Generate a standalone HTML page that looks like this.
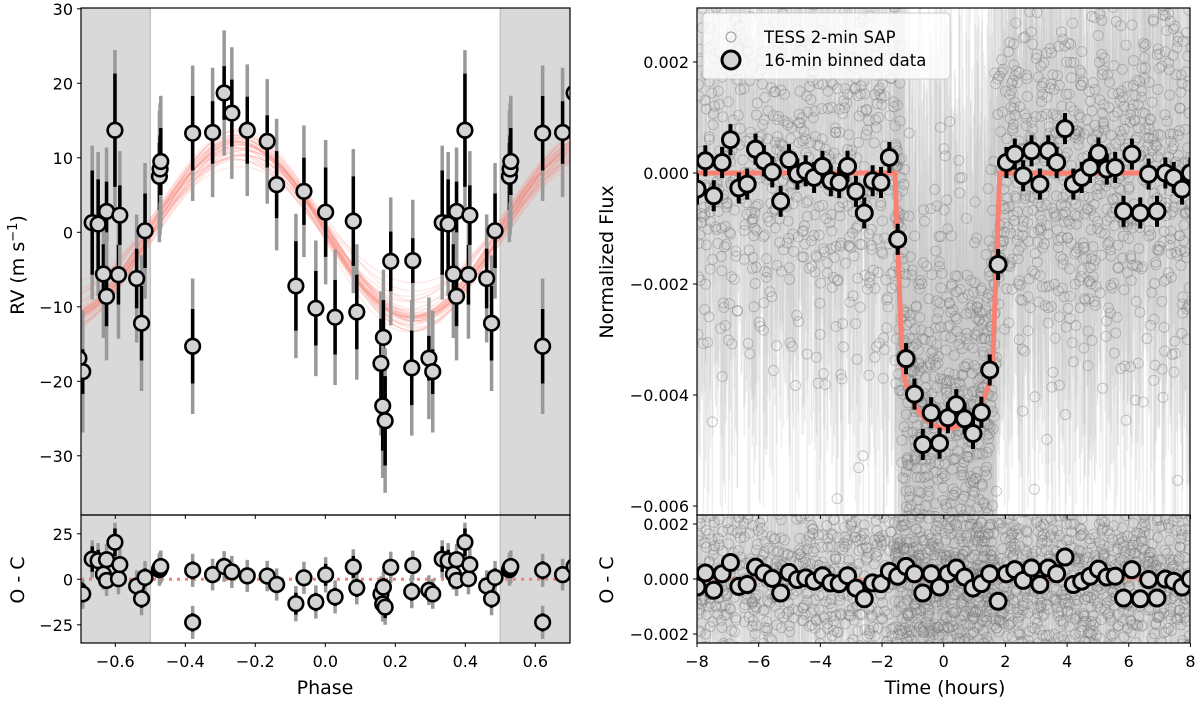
<!DOCTYPE html>
<html><head><meta charset="utf-8"><style>
html,body{margin:0;padding:0;background:#fff;overflow:hidden;width:1200px;height:704px;}
svg{display:block;}
svg text{font-family:"DejaVu Sans","Liberation Sans",sans-serif;}
</style></head><body>
<svg id="fig" width="1200" height="704" viewBox="0 0 1200 704" xmlns="http://www.w3.org/2000/svg">
<defs>
<clipPath id="clipL"><rect x="81" y="8" width="489" height="507"/></clipPath>
<clipPath id="clipLR"><rect x="81" y="515" width="489" height="128"/></clipPath>
<clipPath id="clipR"><rect x="697" y="8" width="493" height="507"/></clipPath>
<clipPath id="clipRR"><rect x="697" y="515" width="493" height="128"/></clipPath>
</defs>
<g id="gL"></g>
<g id="gLR"></g>
<g id="gR"></g>
<g id="gRR"></g>
<g id="gAx"></g>
</svg>
<script>
// ---- RV data (phase, rv, inner error) ----
const rvPhase = [-0.474,-0.472,-0.470,-0.379,-0.379,-0.322,-0.289,-0.267,-0.223,-0.166,-0.139,-0.084,-0.061,-0.027,0.001,0.028,0.080,0.090,0.159,0.166,0.164,0.171,0.187,0.250,0.247,0.296,0.307,0.334,0.351,0.375,0.366,0.375,0.399,0.409,0.413,0.461,0.475,0.485];
const rvValue = [7.5,8.5,9.5,13.3,-15.3,13.4,18.7,16.0,13.7,12.2,6.4,-7.2,5.5,-10.2,2.7,-11.4,1.5,-10.7,-17.6,-14.1,-23.3,-25.3,-3.9,-3.8,-18.2,-16.9,-18.7,1.3,1.1,2.8,-5.6,-8.6,13.7,-5.7,2.3,-6.2,-12.2,0.2];
const rvErr   = [4.5,4.5,4.5,5.0,5.0,4.2,3.6,4.5,4.5,3.5,4.5,6,4.5,5,6,5,6,5,6,5,6,6,4,3,5,3,3,7,6,4,4,4,7.6,4,4,4,5,5];
const rvJitter = 7.6;
// model posterior samples
const sampK   = [11.7,12.0,11.3,10.8,12.5,11.9,13.2,10.2,11.5,12.2,9.5,11.0,12.8,11.6,10.6,13.6,11.8,12.1,8.8,11.4,12.4,10.9,11.7,13.0,9.9,11.2,12.6,11.9,10.4,11.6,7.8,12.3,11.1,13.4,10.7,11.8,12.0,9.2,11.5,12.9];
const sampDp  = [0,0.01,-0.01,0.015,-0.005,0.005,-0.012,0.02,0,0.008,-0.015,0.012,-0.008,0.003,-0.018,0.006,0.01,-0.004,0.004,-0.01,0.014,0.002,-0.006,0.009,-0.02,0.016,-0.003,0.007,0.011,-0.014,0.005,-0.009,0.013,0,0.018,-0.007,0.004,-0.011,0.008,0.001];
const sampGam = [0.3,0.5,0,-0.4,0.6,0.2,-0.2,0.8,0.3,-0.5,0.4,0.1,0.7,-0.3,0.2,0.3,-0.1,0.5,0.9,0,0.4,-0.6,0.3,0.1,0.6,-0.2,0.2,0.4,0,0.7,1.0,-0.1,0.3,0.2,-0.4,0.5,0.1,0.6,0.3,-0.3];
const bestK = 11.7, bestGam = 0.3;
const phaseTicks = [-0.6,-0.4,-0.2,0.0,0.2,0.4,0.6];
const rvTicks = [-30,-20,-10,0,10,20,30];
const rvResTicks = [-25,0,25];

// ---- Transit data ----
const binResid = [-0.29,0.22,-0.41,0.19,0.60,-0.27,-0.20,0.43,0.22,0.02,-0.51,0.24,-0.02,0.04,-0.08,0.12,-0.14,-0.17,0.12,-0.33,-0.72,-0.14,-0.17,0.28,0.10,0.46,0.19,-0.51,0.19,-0.29,0.19,0.40,0.07,-0.33,-0.17,0.19,-0.81,0.19,0.34,-0.05,0.40,-0.20,0.40,0.19,0.80,-0.20,-0.08,0.10,0.36,0.07,0.10,-0.69,0.34,-0.72,-0.02,-0.69,0.00,-0.08,-0.29,0.00]; // x1e-3
const transitTc = 0.12, transitHalf = 1.70, transitIng = 0.22, transitDepth = 0.0046, transitLD = 0.3;
const timeTicks = [-8,-6,-4,-2,0,2,4,6,8];
const fluxTicks = [-0.006,-0.004,-0.002,0.000,0.002];
const fluxResTicks = [-0.002,0.000,0.002];

const NS="http://www.w3.org/2000/svg";
function mk(tag, attrs, parent){const e=document.createElementNS(NS,tag);for(const k in attrs)e.setAttribute(k,attrs[k]);if(parent)parent.appendChild(e);return e;}
const gL=document.getElementById('gL'),gLR=document.getElementById('gLR'),gR=document.getElementById('gR'),gRR=document.getElementById('gRR'),gAx=document.getElementById('gAx');

const xP = p => 325.3 + p*350;
const yRV = v => 232.3 - v*7.45;
const yRVr = v => 579.3 - v*1.82;
const xT = t => 697 + (t+8)*30.84;
const yF = f => 173 - f*55500;
const yFr = f => 579 - f*27500;

function rvModel(p,K,dp,g){return -K*Math.sin(2*Math.PI*(p-dp))+g;}
function transit(t){const x=Math.abs(t-transitTc);if(x>=transitHalf)return 0;const edge=transitDepth*(1-transitLD);
 if(x>transitHalf-transitIng){return -edge*(transitHalf-x)/transitIng;}
 const r=x/(transitHalf-transitIng);return -transitDepth*(1-transitLD*(1-Math.sqrt(1-r*r)));}

// ===== Left main panel =====
const cL=mk('g',{'clip-path':'url(#clipL)'},gL);
const cLR=mk('g',{'clip-path':'url(#clipLR)'},gLR);
[[cL,8,507],[cLR,515,128]].forEach(([g,y,h])=>{
 let s1=mk('rect',{x:xP(-0.8),y:y,width:xP(-0.5)-xP(-0.8),height:h,fill:'#d9d9d9'},g);
 
 
 let s2=mk('rect',{x:xP(0.5),y:y,width:xP(0.8)-xP(0.5),height:h,fill:'#d9d9d9'},g);
 
 
 mk('line',{x1:xP(-0.5),x2:xP(-0.5),y1:y,y2:y+h,stroke:'#c4c4c4','stroke-width':1.5},g);
 mk('line',{x1:xP(0.5),x2:xP(0.5),y1:y,y2:y+h,stroke:'#c4c4c4','stroke-width':1.5},g);
});
for(let s=0;s<sampK.length;s++){
 let d='';for(let i=0;i<=140;i++){const p=-0.72+i*0.0103;d+=(i?'L':'M')+xP(p).toFixed(1)+','+yRV(rvModel(p,sampK[s],sampDp[s],sampGam[s])).toFixed(1);}
 const pth=mk('path',{d:d,fill:'none',stroke:'#fa8072','stroke-width':1.3,'stroke-opacity':0.18},cL);
 
 
}
mk('line',{x1:81,x2:570,y1:yRVr(0),y2:yRVr(0),stroke:'#fa8072','stroke-width':3,'stroke-dasharray':'3,5'},cLR);
const pts=[];
rvPhase.forEach((p,i)=>{[-1,0,1].forEach(o=>{const q=p+o;if(q>=-0.73&&q<=0.73)pts.push([q,rvValue[i],rvErr[i],rvValue[i]-rvModel(p,bestK,0,bestGam)]);});});
pts.forEach(([q,v,e,r])=>{
 const eo=Math.sqrt(e*e+rvJitter*rvJitter);const x=xP(q);
 mk('line',{x1:x,x2:x,y1:yRV(v-eo),y2:yRV(v+eo),stroke:'#999','stroke-width':3.5},cL);
 mk('line',{x1:x,x2:x,y1:yRV(v-e),y2:yRV(v+e),stroke:'#000','stroke-width':3.5},cL);
 mk('line',{x1:x,x2:x,y1:yRVr(r-eo),y2:yRVr(r+eo),stroke:'#999','stroke-width':3.5},cLR);
 mk('line',{x1:x,x2:x,y1:yRVr(r-e),y2:yRVr(r+e),stroke:'#000','stroke-width':3.5},cLR);
});
pts.forEach(([q,v,e,r])=>{
 const c=mk('circle',{cx:xP(q),cy:yRV(v),r:7.3,fill:'#d3d3d3',stroke:'#000','stroke-width':2.6},cL);
 
 
 const c2=mk('circle',{cx:xP(q),cy:yRVr(r),r:7.3,fill:'#d3d3d3',stroke:'#000','stroke-width':2.6},cLR);
 
 
});

// ===== Right panel =====
const cR=mk('g',{'clip-path':'url(#clipR)'},gR);
const cRR=mk('g',{'clip-path':'url(#clipRR)'},gRR);
// raw photometry noise texture (individual points unreadable)
let seed=12345;function rnd(){seed|=0;seed=seed+0x6D2B79F5|0;let t=Math.imul(seed^seed>>>15,1|seed);t=t+Math.imul(t^t>>>7,61|t)^t;return((t^t>>>14)>>>0)/4294967296;}
function gauss(){return Math.sqrt(-2*Math.log(rnd()+1e-9))*Math.cos(2*Math.PI*rnd());}
const raw=[];
for(let k=0;k<4;k++){const t0=k<3?-8:-1.6;for(let t=t0;t<=8;t+=2/60){raw.push([t+rnd()*0.03,transit(t)+gauss()*0.0019,0.0032]);}}
for(let k=0;k<2;k++){for(let t=-1.6;t<=1.7;t+=2/60){raw.push([t+rnd()*0.03,transit(t)+gauss()*0.0019,0.0055]);}}
const rawErrG=mk('g',{stroke:'#c8c8c8','stroke-width':1.5,'stroke-opacity':0.3},cR);
const rawErrG2=mk('g',{stroke:'#c8c8c8','stroke-width':1.5,'stroke-opacity':0.3},cRR);
raw.forEach(([t,f,e])=>{const x=xT(t);const r=f-transit(t);
 mk('line',{x1:x,x2:x,y1:yF(f-e),y2:yF(f+e)},rawErrG);
 mk('line',{x1:x,x2:x,y1:yFr(r-e),y2:yFr(r+e)},rawErrG2);});
const rawG=mk('g',{fill:'none',stroke:'#777','stroke-width':1,'stroke-opacity':0.4},cR);
const rawG2=mk('g',{fill:'none',stroke:'#777','stroke-width':1,'stroke-opacity':0.4},cRR);
raw.forEach(([t,f])=>{mk('circle',{cx:xT(t),cy:yF(f),r:5},rawG);mk('circle',{cx:xT(t),cy:yFr(f-transit(t)),r:5},rawG2);});
let dm='';for(let i=0;i<=800;i++){const t=-8+i*0.02;dm+=(i?'L':'M')+xT(t).toFixed(1)+','+yF(transit(t)).toFixed(1);}
const mline=mk('path',{d:dm,fill:'none',stroke:'#fa8072','stroke-width':5},cR);


mk('line',{x1:697,x2:1190,y1:yFr(0),y2:yFr(0),stroke:'#fa8072','stroke-width':3,'stroke-opacity':0.6},cRR);
const nb=binResid.length;
const bins=binResid.map((r,i)=>{const t=-8+i*16/(nb-1);return [t,transit(t)+r*1e-3,r*1e-3];});
bins.forEach(([t,f,r])=>{const x=xT(t);
 mk('line',{x1:x,x2:x,y1:yF(f-0.00028),y2:yF(f+0.00028),stroke:'#000','stroke-width':4},cR);
 mk('line',{x1:x,x2:x,y1:yFr(r-0.00028),y2:yFr(r+0.00028),stroke:'#000','stroke-width':4},cRR);});
bins.forEach(([t,f,r])=>{
 const c=mk('circle',{cx:xT(t),cy:yF(f),r:8,fill:'#d3d3d3',stroke:'#000','stroke-width':3},cR);
 
 
 const c2=mk('circle',{cx:xT(t),cy:yFr(r),r:8,fill:'#d3d3d3',stroke:'#000','stroke-width':3},cRR);
 
 
});

// ===== Axes =====
function frame(x,y,w,h,name){const r=mk('rect',{x:x,y:y,width:w,height:h,fill:'none',stroke:'#000','stroke-width':1.2},gAx);}
frame(81,8,489,507,'rv-axes-frame');frame(81,515,489,128,'rv-residual-axes-frame');
frame(697,8,493,507,'flux-axes-frame');frame(697,515,493,128,'flux-residual-axes-frame');
function txt(s,x,y,anchor,size,name,rot){const t=mk('text',{x:x,y:y,'text-anchor':anchor,'font-size':size,fill:'#000'},gAx);if(rot)t.setAttribute('transform','rotate(-90 '+x+' '+y+')');t.textContent=s;return t;}
const fmtM=s=>s.replace('-','−');
phaseTicks.forEach(p=>{const x=xP(p);
 mk('line',{x1:x,x2:x,y1:515,y2:519,stroke:'#000','stroke-width':1},gAx);
 mk('line',{x1:x,x2:x,y1:643,y2:647,stroke:'#000','stroke-width':1},gAx);
 txt(fmtM(p.toFixed(1)),x,667,'middle',16,'x-tick-label');});
rvTicks.forEach(v=>{const y=yRV(v);mk('line',{x1:77,x2:81,y1:y,y2:y,stroke:'#000','stroke-width':1},gAx);txt(fmtM(String(v)),73,y+6,'end',16,'y-tick-label');});
rvResTicks.forEach(v=>{const y=yRVr(v);mk('line',{x1:77,x2:81,y1:y,y2:y,stroke:'#000','stroke-width':1},gAx);txt(fmtM(String(v)),73,y+6,'end',16,'y-tick-label');});
timeTicks.forEach(t=>{const x=xT(t);
 mk('line',{x1:x,x2:x,y1:515,y2:519,stroke:'#000','stroke-width':1},gAx);
 mk('line',{x1:x,x2:x,y1:643,y2:647,stroke:'#000','stroke-width':1},gAx);
 txt(fmtM(String(t)),x,667,'middle',16,'x-tick-label');});
fluxTicks.forEach(f=>{const y=yF(f);mk('line',{x1:693,x2:697,y1:y,y2:y,stroke:'#000','stroke-width':1},gAx);txt(fmtM(f.toFixed(3)),689,y+6,'end',16,'y-tick-label');});
fluxResTicks.forEach(f=>{const y=yFr(f);mk('line',{x1:693,x2:697,y1:y,y2:y,stroke:'#000','stroke-width':1},gAx);txt(fmtM(f.toFixed(3)),689,y+6,'end',16,'y-tick-label');});
const yl=txt('',24,265,'middle',19,'rv-y-axis-title',true);yl.innerHTML='RV (m s<tspan dy="-7" font-size="13">−1</tspan><tspan dy="7">)</tspan>';
txt('O - C',24,580,'middle',19,'rv-residual-y-axis-title',true);
txt('Phase',325,694,'middle',19,'phase-x-axis-title');
txt('Normalized Flux',613,262,'middle',19,'flux-y-axis-title',true);
txt('O - C',613,580,'middle',19,'flux-residual-y-axis-title',true);
txt('Time (hours)',945,694,'middle',19,'time-x-axis-title');
const lg=mk('g',{},gAx);
mk('rect',{x:703,y:13,width:247,height:66,rx:4,fill:'#fff','fill-opacity':0.8,stroke:'#ccc'},lg);
mk('circle',{cx:731,cy:37,r:5,fill:'none',stroke:'#999','stroke-width':1},lg);
mk('circle',{cx:731,cy:60,r:9,fill:'#d3d3d3',stroke:'#000','stroke-width':3},lg);
const l1=mk('text',{x:764,y:43,'font-size':16.5},lg);l1.textContent='TESS 2-min SAP';
const l2=mk('text',{x:764,y:66,'font-size':16.5},lg);l2.textContent='16-min binned data';
</script>
</body></html>
